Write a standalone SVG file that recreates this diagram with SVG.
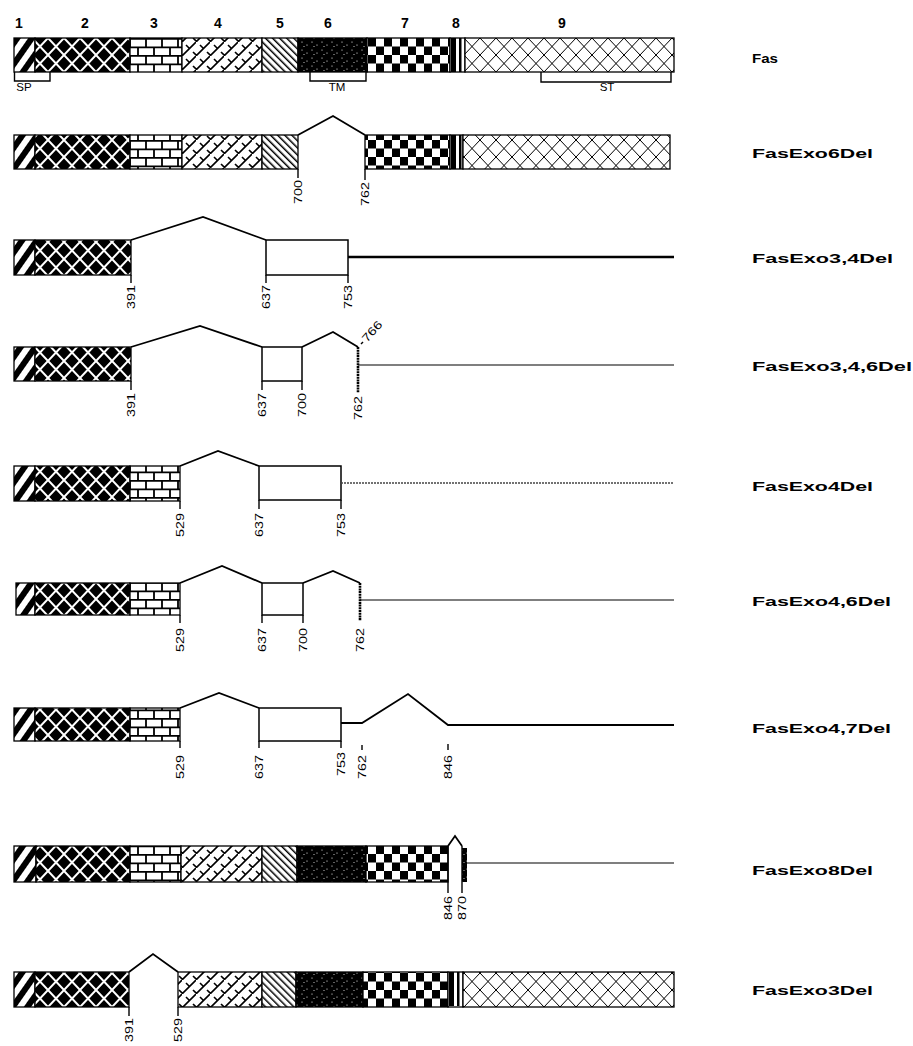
<svg xmlns="http://www.w3.org/2000/svg" width="913" height="1046" viewBox="0 0 913 1046">
<style>
.ex{stroke:#000;stroke-width:1.3}
.intr{fill:none;stroke:#000;stroke-width:1.8;stroke-linejoin:miter}
.tick{stroke:#000;stroke-width:1.4}
.num{font-family:"Liberation Sans",Arial,sans-serif;font-size:11.5px;fill:#000}
.top{font-family:"Liberation Sans",Arial,sans-serif;font-size:14px;font-weight:bold;fill:#000;text-anchor:middle}
.reg{font-family:"Liberation Sans",Arial,sans-serif;font-size:11.5px;fill:#000;text-anchor:middle}
.lab{font-family:"Liberation Sans",Arial,sans-serif;font-size:12.5px;font-weight:bold;fill:#000}
.box{fill:#fff;stroke:#000;stroke-width:1.5}
</style>
<defs>
<pattern id="p1" width="12" height="12" patternUnits="userSpaceOnUse" patternTransform="rotate(35)"><rect width="12" height="12" fill="#000"/><rect x="3" width="6" height="12" fill="#fff"/></pattern>
<pattern id="p2" width="16" height="17" patternUnits="userSpaceOnUse" y="4"><rect width="16" height="17" fill="#000"/><path d="M0,0L16,17M16,0L0,17" stroke="#fff" stroke-width="2"/></pattern>
<pattern id="p3" width="16" height="17" patternUnits="userSpaceOnUse" y="4"><rect width="16" height="17" fill="#fff"/><path d="M0,0.8H16M0,9.3H16M2,0V8.5M10,8.5V17" stroke="#000" stroke-width="1.8"/></pattern>
<pattern id="p4" width="14" height="14" patternUnits="userSpaceOnUse"><rect width="14" height="14" fill="#fff"/><path d="M-1,15L15,-1M4,3L8,7M11,10L15,14M-3,10L1,14" stroke="#000" stroke-width="1.6"/></pattern>
<pattern id="p5" width="5" height="5" patternUnits="userSpaceOnUse" patternTransform="rotate(-45)"><rect width="5" height="5" fill="#fff"/><rect width="1.5" height="5" fill="#000"/></pattern>
<pattern id="p6" width="10" height="8" patternUnits="userSpaceOnUse"><rect width="10" height="8" fill="#000"/><circle cx="2" cy="2" r="0.6" fill="#fff"/><circle cx="7" cy="5" r="0.6" fill="#fff"/><circle cx="4" cy="6.5" r="0.5" fill="#fff"/></pattern>
<pattern id="p7" width="16" height="17" patternUnits="userSpaceOnUse" y="4"><rect width="16" height="17" fill="#fff"/><rect width="8" height="8.5" fill="#000"/><rect x="8" y="8.5" width="8" height="8.5" fill="#000"/></pattern>
<pattern id="p9" width="16" height="17" patternUnits="userSpaceOnUse" y="4"><rect width="16" height="17" fill="#fff"/><path d="M0,0L16,17M16,0L0,17" stroke="#000" stroke-width="1"/></pattern>
<g id="ex8">
<rect x="0" y="0" width="14" height="34" fill="#fff"/>
<rect x="1" y="0" width="5" height="34" fill="#000"/>
<rect x="9" y="0" width="2.5" height="34" fill="#000"/>
</g>
</defs>
<rect width="913" height="1046" fill="#fff"/>

<g id="exon-numbers">
<text class="top" x="19" y="28">1</text>
<text class="top" x="85" y="28">2</text>
<text class="top" x="154" y="28">3</text>
<text class="top" x="218" y="28">4</text>
<text class="top" x="280" y="28">5</text>
<text class="top" x="328" y="28">6</text>
<text class="top" x="405" y="28">7</text>
<text class="top" x="456" y="28">8</text>
<text class="top" x="562" y="28">9</text>
</g>

<!-- Row 1: Fas -->
<g id="fas">
<rect class="ex" x="14" y="38" width="21" height="34" fill="url(#p1)"/>
<rect class="ex" x="35" y="38" width="95" height="34" fill="url(#p2)"/>
<rect class="ex" x="130" y="38" width="52" height="34" fill="url(#p3)"/>
<rect class="ex" x="182" y="38" width="80" height="34" fill="url(#p4)"/>
<rect class="ex" x="262" y="38" width="36" height="34" fill="url(#p5)"/>
<rect class="ex" x="298" y="38" width="69" height="34" fill="url(#p6)"/>
<rect class="ex" x="367" y="38" width="83" height="34" fill="url(#p7)"/>
<use href="#ex8" x="450" y="38"/>
<rect class="ex" x="450" y="38" width="15" height="34" fill="none"/>
<rect class="ex" x="465" y="38" width="209" height="34" fill="url(#p9)"/>
<path class="tick" fill="none" d="M14.5,72V81H50V72"/>
<path class="tick" fill="none" d="M310,72V81H366V72"/>
<path class="tick" fill="none" d="M541,72V82H671V72"/>
<text class="reg" x="24" y="91">SP</text>
<text class="reg" x="337" y="91">TM</text>
<text class="reg" x="607" y="91">ST</text>
<text class="lab" x="752" y="63" textLength="26" lengthAdjust="spacingAndGlyphs">Fas</text>
</g>

<!-- Row 2: FasExo6Del -->
<g id="fasexo6del">
<rect class="ex" x="14" y="135" width="21" height="34" fill="url(#p1)"/>
<rect class="ex" x="35" y="135" width="95" height="34" fill="url(#p2)"/>
<rect class="ex" x="130" y="135" width="52" height="34" fill="url(#p3)"/>
<rect class="ex" x="182" y="135" width="80" height="34" fill="url(#p4)"/>
<rect class="ex" x="262" y="135" width="36" height="34" fill="url(#p5)"/>
<rect class="ex" x="365" y="135" width="85" height="34" fill="url(#p7)"/>
<use href="#ex8" x="450" y="135"/>
<rect class="ex" x="450" y="135" width="13" height="34" fill="none"/>
<rect class="ex" x="463" y="135" width="207" height="34" fill="url(#p9)"/>
<line class="tick" x1="298" y1="169" x2="298" y2="178"/>
<line class="tick" x1="365" y1="169" x2="365" y2="180"/>
<text class="num" text-anchor="end" textLength="24" lengthAdjust="spacingAndGlyphs" transform="translate(302,180) rotate(-90)">700</text>
<text class="num" text-anchor="end" textLength="24" lengthAdjust="spacingAndGlyphs" transform="translate(369,182) rotate(-90)">762</text>
<text class="lab" x="752" y="158" textLength="121" lengthAdjust="spacingAndGlyphs">FasExo6Del</text>
</g>

<!-- Row 3: FasExo3,4Del -->
<g id="fasexo34del">
<rect class="ex" x="14" y="240" width="21" height="35" fill="url(#p1)"/>
<rect class="ex" x="35" y="240" width="96" height="35" fill="url(#p2)"/>
<rect class="box" x="266" y="240" width="82" height="35"/>
<line class="tick" x1="131" y1="275" x2="131" y2="283"/>
<line class="tick" x1="266" y1="275" x2="266" y2="283"/>
<line class="tick" x1="348" y1="275" x2="348" y2="283"/>
<text class="num" text-anchor="end" textLength="24" lengthAdjust="spacingAndGlyphs" transform="translate(135,285) rotate(-90)">391</text>
<text class="num" text-anchor="end" textLength="24" lengthAdjust="spacingAndGlyphs" transform="translate(270,285) rotate(-90)">637</text>
<text class="num" text-anchor="end" textLength="24" lengthAdjust="spacingAndGlyphs" transform="translate(352,285) rotate(-90)">753</text>
<text class="lab" x="752" y="263" textLength="141" lengthAdjust="spacingAndGlyphs">FasExo3,4Del</text>
</g>

<!-- Row 4: FasExo3,4,6Del -->
<g id="fasexo346del">
<rect class="ex" x="14" y="347" width="21" height="34" fill="url(#p1)"/>
<rect class="ex" x="35" y="347" width="96" height="34" fill="url(#p2)"/>
<rect class="box" x="262" y="347" width="40" height="34"/>
<line class="tick" x1="131" y1="381" x2="131" y2="390"/>
<line class="tick" x1="262" y1="381" x2="262" y2="390"/>
<line class="tick" x1="302" y1="381" x2="302" y2="390"/>
<line x1="358" y1="347" x2="358" y2="393" stroke="#000" stroke-width="2.6" stroke-dasharray="2 0.7"/>
<text class="num" text-anchor="end" textLength="24" lengthAdjust="spacingAndGlyphs" transform="translate(135,393) rotate(-90)">391</text>
<text class="num" text-anchor="end" textLength="24" lengthAdjust="spacingAndGlyphs" transform="translate(266,393) rotate(-90)">637</text>
<text class="num" text-anchor="end" textLength="24" lengthAdjust="spacingAndGlyphs" transform="translate(306,393) rotate(-90)">700</text>
<text class="num" text-anchor="end" textLength="24" lengthAdjust="spacingAndGlyphs" transform="translate(362,396) rotate(-90)">762</text>
<text class="num" textLength="24" lengthAdjust="spacingAndGlyphs" transform="translate(367,343) rotate(-48)">766</text>
<line class="tick" x1="361" y1="344" x2="363" y2="342"/>
<text class="lab" x="752" y="371" textLength="160" lengthAdjust="spacingAndGlyphs">FasExo3,4,6Del</text>
</g>

<!-- Row 5: FasExo4Del -->
<g id="fasexo4del">
<rect class="ex" x="14" y="466" width="21" height="35" fill="url(#p1)"/>
<rect class="ex" x="35" y="466" width="95" height="35" fill="url(#p2)"/>
<rect class="ex" x="130" y="466" width="50" height="35" fill="url(#p3)"/>
<rect class="box" x="259" y="466" width="82" height="34"/>
<line class="tick" x1="180" y1="501" x2="180" y2="509"/>
<line class="tick" x1="259" y1="500" x2="259" y2="509"/>
<line class="tick" x1="341" y1="500" x2="341" y2="509"/>
<text class="num" text-anchor="end" textLength="24" lengthAdjust="spacingAndGlyphs" transform="translate(184,513) rotate(-90)">529</text>
<text class="num" text-anchor="end" textLength="24" lengthAdjust="spacingAndGlyphs" transform="translate(263,513) rotate(-90)">637</text>
<text class="num" text-anchor="end" textLength="24" lengthAdjust="spacingAndGlyphs" transform="translate(345,513) rotate(-90)">753</text>
<text class="lab" x="752" y="491" textLength="121" lengthAdjust="spacingAndGlyphs">FasExo4Del</text>
</g>

<!-- Row 6: FasExo4,6Del -->
<g id="fasexo46del">
<rect class="ex" x="16" y="583" width="19" height="32" fill="url(#p1)"/>
<rect class="ex" x="35" y="583" width="95" height="32" fill="url(#p2)"/>
<rect class="ex" x="130" y="583" width="50" height="32" fill="url(#p3)"/>
<rect class="box" x="262" y="583" width="41" height="32"/>
<line class="tick" x1="180" y1="615" x2="180" y2="623"/>
<line class="tick" x1="262" y1="615" x2="262" y2="623"/>
<line class="tick" x1="303" y1="615" x2="303" y2="623"/>
<line x1="360" y1="583" x2="360" y2="621" stroke="#000" stroke-width="2.6" stroke-dasharray="2 0.7"/>
<text class="num" text-anchor="end" textLength="24" lengthAdjust="spacingAndGlyphs" transform="translate(184,628) rotate(-90)">529</text>
<text class="num" text-anchor="end" textLength="24" lengthAdjust="spacingAndGlyphs" transform="translate(266,628) rotate(-90)">637</text>
<text class="num" text-anchor="end" textLength="24" lengthAdjust="spacingAndGlyphs" transform="translate(307,628) rotate(-90)">700</text>
<text class="num" text-anchor="end" textLength="24" lengthAdjust="spacingAndGlyphs" transform="translate(364,628) rotate(-90)">762</text>
<text class="lab" x="752" y="606" textLength="139" lengthAdjust="spacingAndGlyphs">FasExo4,6Del</text>
</g>

<!-- Row 7: FasExo4,7Del -->
<g id="fasexo47del">
<rect class="ex" x="14" y="708" width="21" height="33" fill="url(#p1)"/>
<rect class="ex" x="35" y="708" width="95" height="33" fill="url(#p2)"/>
<rect class="ex" x="130" y="708" width="50" height="33" fill="url(#p3)"/>
<rect class="box" x="259" y="708" width="82" height="33"/>
<line class="tick" x1="180" y1="741" x2="180" y2="748"/>
<line class="tick" x1="259" y1="741" x2="259" y2="748"/>
<line class="tick" x1="341" y1="741" x2="341" y2="748"/>
<line class="tick" x1="362" y1="745" x2="362" y2="750"/>
<line class="tick" x1="448" y1="744" x2="448" y2="750"/>
<text class="num" text-anchor="end" textLength="24" lengthAdjust="spacingAndGlyphs" transform="translate(184,755) rotate(-90)">529</text>
<text class="num" text-anchor="end" textLength="24" lengthAdjust="spacingAndGlyphs" transform="translate(263,755) rotate(-90)">637</text>
<text class="num" text-anchor="end" textLength="24" lengthAdjust="spacingAndGlyphs" transform="translate(345,752) rotate(-90)">753</text>
<text class="num" text-anchor="end" textLength="24" lengthAdjust="spacingAndGlyphs" transform="translate(366,755) rotate(-90)">762</text>
<text class="num" text-anchor="end" textLength="24" lengthAdjust="spacingAndGlyphs" transform="translate(452,755) rotate(-90)">846</text>
<text class="lab" x="752" y="733" textLength="139" lengthAdjust="spacingAndGlyphs">FasExo4,7Del</text>
</g>

<!-- Row 8: FasExo8Del -->
<g id="fasexo8del">
<rect class="ex" x="14" y="846" width="22" height="36" fill="url(#p1)"/>
<rect class="ex" x="36" y="846" width="94" height="36" fill="url(#p2)"/>
<rect class="ex" x="130" y="846" width="51" height="36" fill="url(#p3)"/>
<rect class="ex" x="181" y="846" width="81" height="36" fill="url(#p4)"/>
<rect class="ex" x="262" y="846" width="35" height="36" fill="url(#p5)"/>
<rect class="ex" x="297" y="846" width="69" height="36" fill="url(#p6)"/>
<rect class="ex" x="366" y="846" width="82" height="36" fill="url(#p7)"/>
<rect x="462" y="848" width="5" height="34" fill="url(#p6)"/>
<line class="tick" x1="448" y1="846" x2="448" y2="893"/>
<line class="tick" x1="462" y1="846" x2="462" y2="893"/>
<text class="num" text-anchor="end" textLength="24" lengthAdjust="spacingAndGlyphs" transform="translate(452,896) rotate(-90)">846</text>
<text class="num" text-anchor="end" textLength="24" lengthAdjust="spacingAndGlyphs" transform="translate(466,896) rotate(-90)">870</text>
<text class="lab" x="752" y="875" textLength="121" lengthAdjust="spacingAndGlyphs">FasExo8Del</text>
</g>

<!-- Row 9: FasExo3Del -->
<g id="fasexo3del">
<rect class="ex" x="14" y="972" width="21" height="35" fill="url(#p1)"/>
<rect class="ex" x="35" y="972" width="94" height="35" fill="url(#p2)"/>
<rect class="ex" x="178" y="972" width="84" height="35" fill="url(#p4)"/>
<rect class="ex" x="262" y="972" width="34" height="35" fill="url(#p5)"/>
<rect class="ex" x="296" y="972" width="67" height="35" fill="url(#p6)"/>
<rect class="ex" x="363" y="972" width="85" height="35" fill="url(#p7)"/>
<use href="#ex8" x="448" y="972"/>
<rect class="ex" x="448" y="972" width="15" height="35" fill="none"/>
<rect class="ex" x="463" y="972" width="211" height="35" fill="url(#p9)"/>
<line class="tick" x1="129" y1="1007" x2="129" y2="1016"/>
<line class="tick" x1="178" y1="1007" x2="178" y2="1016"/>
<text class="num" text-anchor="end" textLength="24" lengthAdjust="spacingAndGlyphs" transform="translate(133,1018) rotate(-90)">391</text>
<text class="num" text-anchor="end" textLength="24" lengthAdjust="spacingAndGlyphs" transform="translate(182,1018) rotate(-90)">529</text>
<text class="lab" x="752" y="995" textLength="121" lengthAdjust="spacingAndGlyphs">FasExo3Del</text>
</g>

<g id="connectors">
<polyline class="intr" points="298,135 333,116 365,135"/>
<polyline class="intr" points="131,240 203,217 266,240"/>
<line x1="348" y1="257" x2="674" y2="257" stroke="#000" stroke-width="2.6"/>
<polyline class="intr" points="131,347 200,326 262,347"/>
<polyline class="intr" points="302,347 333,332 358,347"/>
<line x1="358" y1="365" x2="674" y2="365" stroke="#000" stroke-width="1.2"/>
<polyline class="intr" points="180,466 218,451 259,466"/>
<line x1="341" y1="483" x2="674" y2="483" stroke="#444" stroke-width="1.4" stroke-dasharray="2 1"/>
<polyline class="intr" points="180,583 222,566 262,583"/>
<polyline class="intr" points="303,583 333,571 360,583"/>
<line x1="360" y1="600" x2="674" y2="600" stroke="#000" stroke-width="1.2"/>
<polyline class="intr" points="180,708 219,693 259,708"/>
<polyline class="intr" points="341,723 362,723 408,694 448,725 674,725"/>
<polyline class="intr" points="448,846 455,836 462,846"/>
<line x1="467" y1="863" x2="674" y2="863" stroke="#000" stroke-width="1.2"/>
<polyline class="intr" points="129,972 153,954 178,972"/>
</g>
</svg>
